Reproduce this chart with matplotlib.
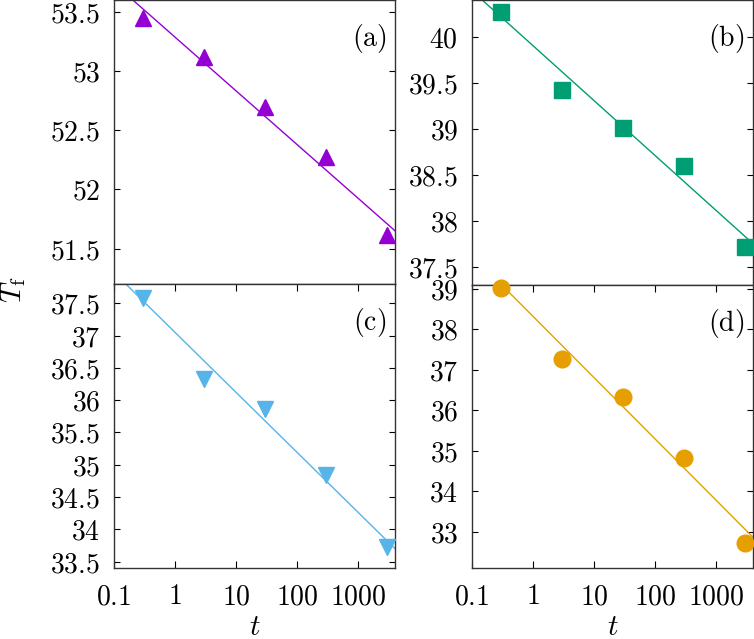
import numpy as np
import matplotlib
matplotlib.use("Agg")
import matplotlib.pyplot as plt
from matplotlib.ticker import FixedLocator, LogLocator, FuncFormatter, NullFormatter

plt.rcParams['mathtext.fontset'] = 'cm'
plt.rcParams['font.family'] = ['DejaVu Serif']

# waiting times (same for every panel)
t_data = [0.3, 3, 30, 300, 3000]

# measured T_f per panel
tf_a = [53.45, 53.12, 52.70, 52.27, 51.61]
tf_b = [40.27, 39.42, 39.01, 38.59, 37.71]
tf_c = [37.58, 36.33, 35.86, 34.84, 33.72]
tf_d = [39.03, 37.27, 36.32, 34.83, 32.73]

# fit line end points at t = 0.1 and t = 4000
fit_t = [0.1, 4000]
fit_a = [53.74, 51.65]
fit_b = [40.50, 37.75]
fit_c = [37.98, 33.70]
fit_d = [39.84, 32.86]

x_ticks = [0.1, 1, 10, 100, 1000]

panels = [
    # label, data, fit, colour, marker, ylim, yticks, rect
    ('(a)', tf_a, fit_a, '#9400D3', '^', (51.2, 53.6), [51.5, 52, 52.5, 53, 53.5],
     [114 / 754, 1 - 284 / 639, 281 / 754, 284 / 639]),
    ('(b)', tf_b, fit_b, '#009E73', 's', (37.3, 40.4), [37.5, 38, 38.5, 39, 39.5, 40],
     [472 / 754, 1 - 285 / 639, 281 / 754, 285 / 639]),
    ('(c)', tf_c, fit_c, '#56B4E9', 'v', (33.4, 37.8),
     [33.5, 34, 34.5, 35, 35.5, 36, 36.5, 37, 37.5],
     [114 / 754, 1 - 568 / 639, 281 / 754, 284 / 639]),
    ('(d)', tf_d, fit_d, '#E69F00', 'o', (32.1, 39.1), [33, 34, 35, 36, 37, 38, 39],
     [472 / 754, 1 - 568 / 639, 281 / 754, 283 / 639]),
]

fig = plt.figure(figsize=(7.54, 6.39), dpi=100)

def fmt(v, pos):
    return r'$%g$' % v

for i, (lab, ys, fit, col, mk, ylim, yt, rect) in enumerate(panels):
    ax = fig.add_axes(rect)
    ax.plot(fit_t, fit, color=col, lw=1.0, zorder=2)
    ms = 11.5 if mk in ('^', 'v') else (12 if mk == 's' else 12)
    ax.plot(t_data, ys, linestyle='none', marker=mk, color=col, ms=ms,
            mec=col, clip_on=False, zorder=3)
    ax.set_xscale('log')
    ax.set_xlim(0.1, 4000)
    ax.set_ylim(*ylim)
    ax.yaxis.set_major_locator(FixedLocator(yt))
    ax.yaxis.set_major_formatter(FuncFormatter(fmt))
    ax.xaxis.set_major_locator(FixedLocator(x_ticks))
    ax.xaxis.set_minor_locator(LogLocator(base=10, subs=np.arange(2, 10)))
    ax.xaxis.set_minor_formatter(NullFormatter())
    bottom_row = i >= 2
    if bottom_row:
        ax.xaxis.set_major_formatter(FuncFormatter(fmt))
        ax.tick_params(axis='x', which='both', direction='in', top=True, bottom=True,
                       labelsize=20, pad=11)
        ax.set_xlabel(r'$t$', fontsize=21, labelpad=2)
    else:
        ax.tick_params(axis='x', which='both', bottom=False, top=False,
                       labelbottom=False)
    ax.tick_params(axis='x', which='major', length=5, width=0.8)
    ax.tick_params(axis='x', which='minor', length=2.5, width=0.8)
    ax.tick_params(axis='y', which='major', direction='in', left=True, right=True,
                   length=4.5, width=0.8, labelsize=20, pad=10)
    for s in ax.spines.values():
        s.set_linewidth(1.0)
        s.set_color('#333333')
    ax.text(0.97, 0.865, r'$\mathrm{%s}$' % lab, transform=ax.transAxes,
            ha='right', va='center', fontsize=20)

fig.text(0.018, 0.546, r'$T_\mathrm{f}$', rotation=90, ha='center', va='center',
         fontsize=21)

fig.savefig('out.png', dpi=100)
